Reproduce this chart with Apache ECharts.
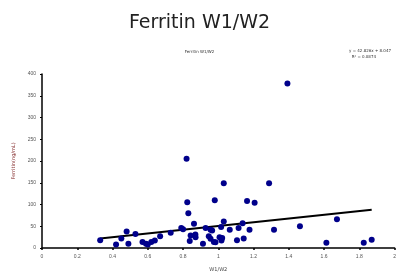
<!DOCTYPE html>
<html>
    <head>
        <meta charset="utf-8">
        <title>Ferritin W1/W2</title>
        <style>
            html, body { margin: 0; padding: 0; background: #fff; }
            #chart1 { width: 399px; height: 277px; }
        </style>
    </head>
    <body>
        <div id="chart1"></div>
    </body>
    <script src="https://cdn.jsdelivr.net/npm/echarts@6/dist/echarts.min.js"></script>
    <script type="text/javascript">
        // 散点数据 (W1/W2, Ferritin)
        var ratioW = [0.33, 0.42, 0.45, 0.48, 0.49, 0.53, 0.57, 0.59, 0.60, 0.62, 0.64, 0.67, 0.73, 0.79, 0.80,
            0.82, 0.824, 0.83, 0.838, 0.843, 0.862, 0.87, 0.871, 0.913, 0.928, 0.946, 0.956, 0.965, 0.956, 0.975,
            0.984, 0.98, 1.007, 1.022, 1.018, 1.031, 1.016, 1.031, 1.065, 1.106, 1.115, 1.138, 1.144, 1.163, 1.177,
            1.206, 1.288, 1.316, 1.392, 1.463, 1.613, 1.673, 1.825, 1.87];
        var ferritin = [18, 8, 22, 38, 10, 32, 14, 10, 8, 14, 17, 27, 35, 46, 43,
            205, 105, 80, 16, 29, 56, 31, 25, 10, 46, 27, 42, 40, 21, 14,
            13, 110, 25, 23, 17, 61, 48, 149, 42, 18, 46, 57, 22, 108, 42,
            104, 149, 42, 378, 50, 12, 66, 12, 19];
        // 趋势线两端
        var trendX = [0.33, 1.87];
        var trendY = [22, 88];
        var equation = ['y = 42.826x + 8.047', 'R² = 0.0874'];

        var points = ratioW.map(function (x, i) { return [x, ferritin[i]]; });
        var trend = trendX.map(function (x, i) { return [x, trendY[i]]; });

        var myChart = echarts.init(document.getElementById("chart1"));
        var tiny = { fontSize: 5, color: '#444', fontFamily: 'DejaVu Sans' };
        var option = {
            animation: false,
            title: [{
                text: 'Ferritin W1/W2',
                left: 'center',
                top: 9,
                textStyle: { fontSize: 19, fontWeight: 'normal', color: '#222', fontFamily: 'DejaVu Sans' }
            }, {
                text: 'Ferritin W1/W2',
                left: 'center',
                top: 45,
                textStyle: { fontSize: 4, fontWeight: 'normal', color: '#333', fontFamily: 'DejaVu Sans' }
            }, {
                text: equation[0],
                right: 3,
                top: 44,
                textStyle: { fontSize: 4, fontWeight: 'normal', color: '#333', fontFamily: 'DejaVu Sans' }
            }, {
                text: equation[1],
                right: 18,
                top: 50,
                textStyle: { fontSize: 4, fontWeight: 'normal', color: '#333', fontFamily: 'DejaVu Sans' }
            }],
            grid: { left: 42, right: 2, top: 74, bottom: 25 },
            xAxis: {
                type: 'value',
                min: 0, max: 2, interval: 0.2,
                name: 'W1/W2',
                nameLocation: 'middle',
                nameGap: 19,
                nameTextStyle: tiny,
                axisLine: { lineStyle: { color: '#000', width: 1.5 } },
                axisTick: { show: true, length: 2, lineStyle: { color: '#000', width: 1.5 } },
                axisLabel: { fontSize: 5, color: '#555', margin: 6 },
                splitLine: { show: false }
            },
            yAxis: {
                type: 'value',
                min: 0, max: 400, interval: 50,
                name: 'Ferritin(ng/mL)',
                nameLocation: 'middle',
                nameGap: 26,
                nameTextStyle: { fontSize: 5, color: '#833', fontFamily: 'DejaVu Sans' },
                axisLine: { show: true, lineStyle: { color: '#000', width: 1.5 } },
                axisTick: { show: true, length: 2, lineStyle: { color: '#000', width: 1 } },
                axisLabel: { fontSize: 5, color: '#555', margin: 6 },
                splitLine: { show: false }
            },
            series: [{
                name: 'Ferritin',
                type: 'scatter',
                data: points,
                symbol: 'circle',
                symbolSize: 6,
                itemStyle: { color: '#00008b', opacity: 1 },
                z: 3
            }, {
                name: 'trend',
                type: 'line',
                data: trend,
                symbol: 'none',
                lineStyle: { color: '#000', width: 2 },
                z: 2
            }]
        };
        myChart.setOption(option);
    </script>
</html>
